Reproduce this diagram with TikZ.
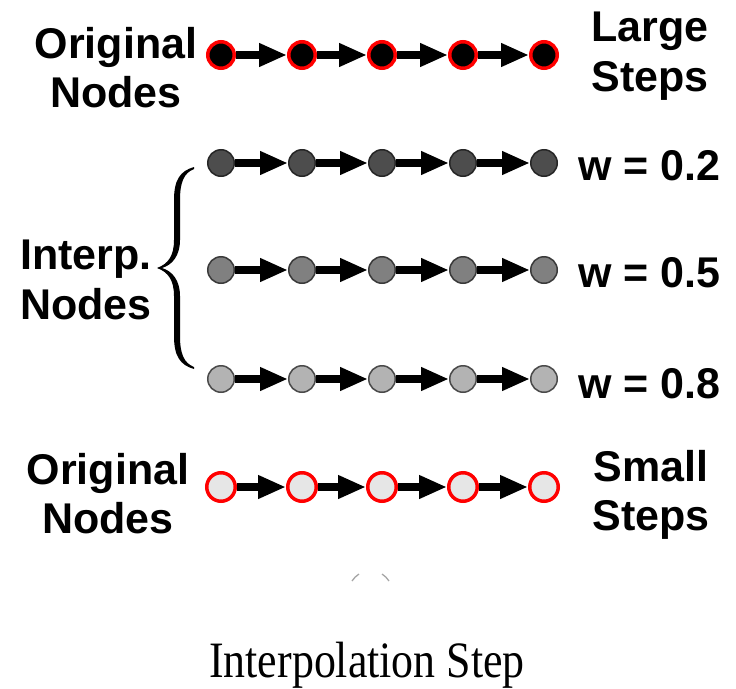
\documentclass[tikz,border=0pt]{standalone}
\usepackage{fontspec}
\usetikzlibrary{arrows.meta}
\newfontfamily\arialb{Liberation Sans}[BoldFont={* Bold}]
\newfontfamily\timesf{Liberation Serif}
\definecolor{rowA}{HTML}{4D4D4D}
\definecolor{rowB}{HTML}{808080}
\definecolor{rowC}{HTML}{B3B3B3}
\definecolor{rowD}{HTML}{E6E6E6}
\definecolor{edgeA}{HTML}{262626}
\definecolor{edgeB}{HTML}{3A3A3A}
\definecolor{edgeC}{HTML}{4A4A4A}
\definecolor{pure red}{HTML}{FF0000}
\begin{document}
\begin{tikzpicture}[x=1pt,y=-1pt,
  dotbase/.style={circle,inner sep=0pt},
  orig1/.style={dotbase,minimum size=26.5pt,fill=black,draw=pure red,line width=3.5pt},
  interA/.style={dotbase,minimum size=26.5pt,fill=rowA,draw=edgeA,line width=1.5pt},
  interB/.style={dotbase,minimum size=26.5pt,fill=rowB,draw=edgeB,line width=1.5pt},
  interC/.style={dotbase,minimum size=26.5pt,fill=rowC,draw=edgeC,line width=1.5pt},
  orig2/.style={dotbase,minimum size=28.5pt,fill=rowD,draw=pure red,line width=3.5pt},
  arr/.style={line width=7.5pt,-{Triangle[length=28pt,width=22pt]}},
  lbl/.style={inner sep=0pt,outer sep=0pt,align=center,anchor=north,
    font=\arialb\bfseries\fontsize{43}{49.5}\selectfont},
  wlbl/.style={lbl,anchor=north west,align=left}]
\useasboundingbox (0,0) rectangle (736,688);
% node rows
\foreach \r/\y/\sty in {1/55/orig1,2/163/interA,3/270/interB,4/379/interC,5/487/orig2}{
  \foreach \i/\x in {1/221,2/302,3/382,4/463,5/544}{
    \node[\sty] (n\r\i) at (\x,\y) {};
  }
}
\foreach \r in {1,...,5}{
  \foreach \i [evaluate=\i as \j using int(\i+1)] in {1,...,4}{
    \draw[arr] (n\r\i) -- (n\r\j);
  }
}
% labels
\node[lbl] (origtop) at (116,27) {Original\\Nodes};
\node[lbl] (large) at (650,12) {Large\\Steps};
\node[wlbl] (w2) at (578,150) {w = 0.2};
\node[wlbl] (w5) at (578,257) {w = 0.5};
\node[wlbl] (w8) at (578,368) {w = 0.8};
\node[lbl] (interp) at (86,240) {Interp.\\Nodes};
\node[lbl] (origbot) at (108,453) {Original\\Nodes};
\node[lbl] (small) at (651,450) {Small\\Steps};
% brace
\fill[black] (194,167) .. controls (180,171) and (174,180) .. (174,200) -- (174,240)
  .. controls (174,256) and (168,264) .. (157,268)
  .. controls (168,272) and (174,280) .. (174,296) -- (174,336)
  .. controls (174,356) and (180,365) .. (194,369) -- (194,367)
  .. controls (184,363) and (180,354) .. (180,336) -- (180,296)
  .. controls (180,280) and (172,271) .. (162,268)
  .. controls (172,265) and (180,256) .. (180,240) -- (180,200)
  .. controls (180,182) and (184,173) .. (194,169) -- cycle;
% cut-off fragments of a sub-caption
\draw[black!35,line width=1.3pt] (352,581) .. controls (354,578) and (356,576) .. (359,574);
\draw[black!35,line width=1.3pt] (382,574) .. controls (385,576) and (387,578) .. (389,581);
% caption
\node[inner sep=0pt,anchor=north,font=\timesf\fontsize{51}{60}\selectfont] (cap) at (367,642)
  {\scalebox{0.86}[1]{Interpolation Step}};
\end{tikzpicture}
\end{document}
